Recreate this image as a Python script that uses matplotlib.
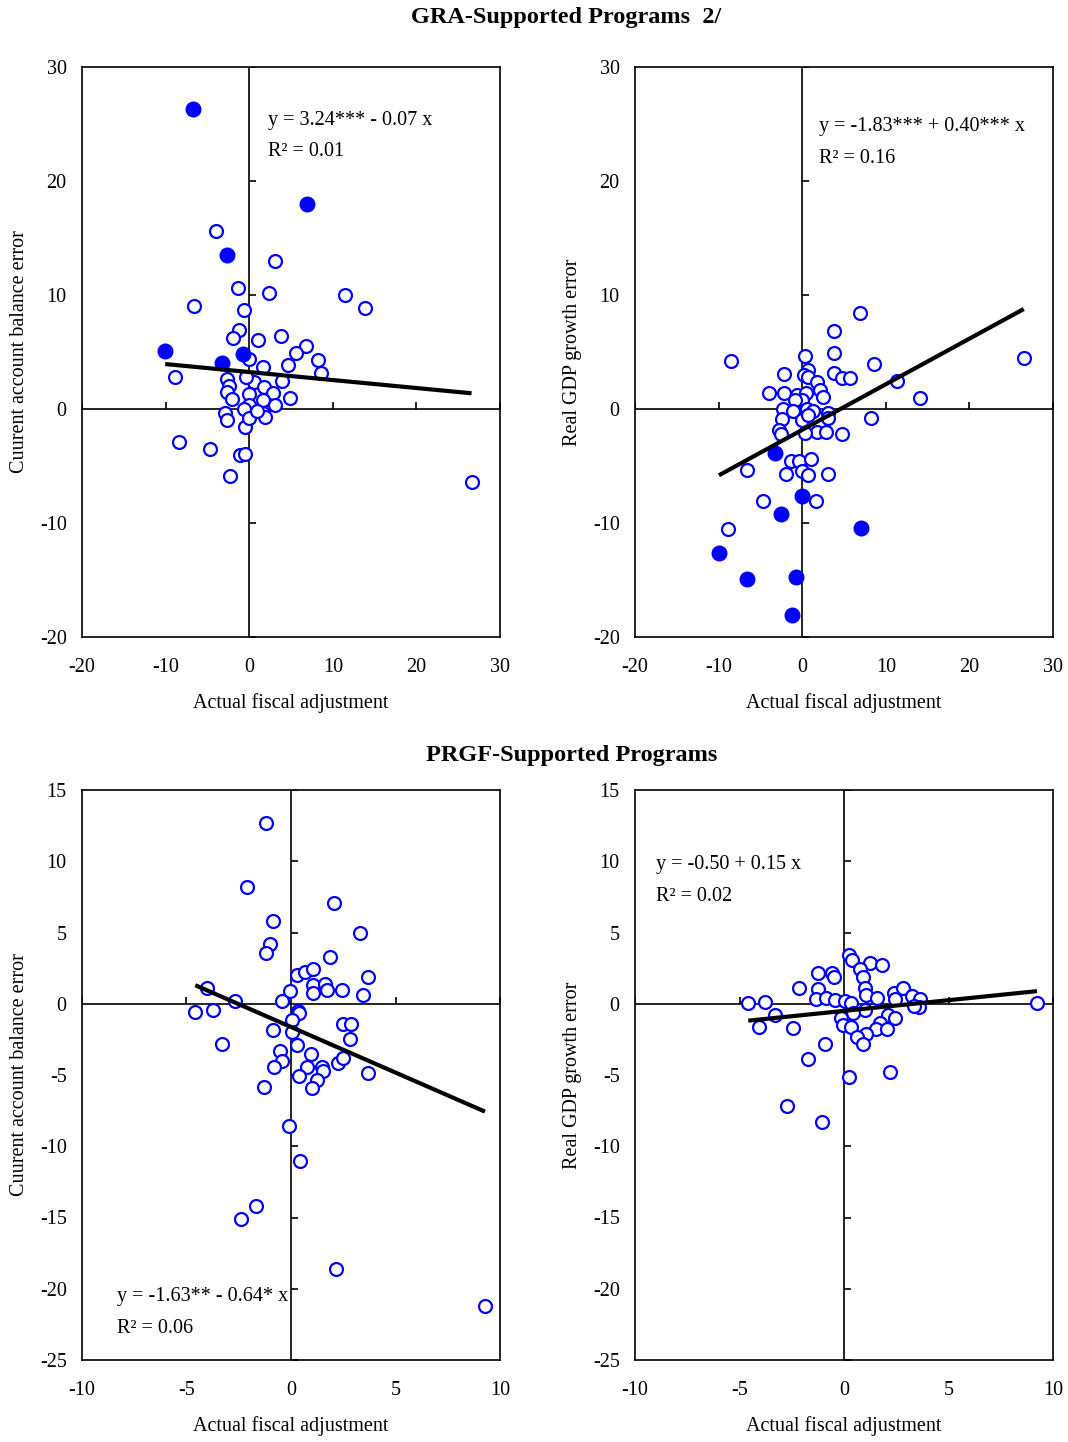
import numpy as np
import matplotlib
matplotlib.use("Agg")
import matplotlib.pyplot as plt

plt.rcParams['font.family'] = ['Liberation Serif', 'DejaVu Serif']
plt.rcParams['axes.unicode_minus'] = False

# GRA programs: current account error vs fiscal adjustment
gra_ca_x = [-3.97, 3.05, -1.30, 2.37, 11.4, 13.9, -6.60, -0.58, -1.26, -1.94, 1.05, 3.80,
            6.83, 5.63, 8.19, 8.59, 4.68, 1.69, -0.02, -8.87, -2.62, -2.38, -2.62, -2.06,
            0.53, 1.73, 3.88, 2.81, 0.01, 4.84, 1.65, 0.01, 3.12, -0.62, 1.69, 1.85,
            -2.86, -2.70, -0.47, -0.04, -8.44, -4.69, -1.10, -0.50, -2.26, 26.6, -0.40, 0.90]
gra_ca_y = [15.6, 13.0, 10.6, 10.2, 10.0, 8.88, 9.06, 8.68, 6.93, 6.20, 6.05, 6.43,
            5.53, 4.91, 4.27, 3.16, 3.86, 3.65, 4.36, 2.78, 2.66, 2.05, 1.52, 0.85,
            2.40, 1.96, 2.49, 1.44, 1.32, 0.96, 0.76, 0.35, 0.35, 0.03, -0.38, -0.67,
            -0.38, -0.96, -1.55, -0.76, -2.87, -3.54, -4.06, -3.98, -5.85, -6.44, 2.80, -0.20]
gra_ca_fx = [-6.67, 6.87, -2.70, -10.05, -0.72, -3.29]
gra_ca_fy = [26.3, 18.0, 13.5, 5.1, 4.82, 4.0]

# GRA programs: growth error vs fiscal adjustment
gra_g_x = [6.90, 3.77, 3.80, -8.47, 0.38, 8.55, 26.5, -2.17, 0.70, 0.22, 0.74, 3.85,
           4.73, 5.69, 1.73, 2.09, 2.49, 11.3, -3.97, -2.17, -0.58, 0.42, 0.02, -0.86,
           14.05, -2.33, -1.06, 0.58, 1.33, 3.05, 3.09, -2.45, -0.06, 0.66, 8.19, 1.73,
           0.34, 2.81, 4.80, -2.73, -2.49, -6.56, -1.34, -0.42, 1.10, -1.90, 0.02, 0.70,
           3.13, -4.69, 1.61, -8.88]
gra_g_y = [8.38, 6.82, 4.89, 4.21, 4.62, 3.98, 4.46, 3.10, 3.39, 3.02, 2.82, 3.16,
           2.69, 2.75, 2.34, 1.64, 1.03, 2.46, 1.40, 1.40, 1.20, 1.40, 0.76, 0.76,
           0.96, 0.03, -0.15, 0.03, -0.18, -0.35, -0.82, -0.85, -0.94, -0.50, -0.75, -2.02,
           -2.11, -2.02, -2.22, -1.87, -2.16, -5.32, -4.59, -4.59, -4.41, -5.73, -5.44, -5.82,
           -5.73, -8.07, -8.07, -10.56]
gra_g_fx = [-3.21, -0.08, -2.55, 7.0, -9.96, -6.59, -0.71, -1.19]
gra_g_fy = [-3.9, -7.64, -9.18, -10.47, -12.64, -14.88, -14.75, -18.09]

# PRGF programs: current account error vs fiscal adjustment
prgf_ca_x = [-1.21, -2.11, 2.04, -0.86, 3.30, -0.99, -1.20, 1.88, 0.27, 0.67, 1.04, 3.67,
             -4.00, 1.04, 1.61, 1.07, 1.72, 2.45, 3.43, -0.05, -0.43, -2.69, -4.58, -3.75,
             0.35, 0.36, 0.03, -0.85, 0.06, 2.47, 2.89, 2.84, -3.32, 0.27, -0.51, 0.96,
             -0.43, -0.80, 2.23, 2.47, 0.77, 1.50, 1.51, 3.67, 0.38, 1.23, 0.99, -1.28,
             -0.10, 0.43, -2.39, -1.67, 2.15, 9.28]
prgf_ca_y = [12.69, 8.18, 7.10, 5.84, 4.95, 4.17, 3.59, 3.31, 2.05, 2.23, 2.42, 1.88,
             1.13, 1.32, 1.37, 0.74, 0.95, 0.95, 0.62, 0.90, 0.22, 0.18, -0.60, -0.43,
             -0.50, -0.68, -1.16, -1.81, -1.95, -1.42, -1.44, -2.44, -2.82, -2.89, -3.31, -3.50,
             -4.04, -4.43, -4.13, -3.80, -4.43, -4.46, -4.71, -4.85, -5.07, -5.37, -5.91, -5.84,
             -8.6, -11.05, -15.1, -14.2, -18.6, -21.2]

# PRGF programs: growth error vs fiscal adjustment
prgf_g_x = [0.26, 0.39, 1.23, 1.82, 0.75, 0.91, -1.24, -0.56, -0.50, -2.17, -1.24, 0.99,
            1.07, 1.58, 2.41, 2.84, 3.25, 3.63, 3.58, 3.35, 2.45, -4.58, -3.78, -1.34,
            -0.88, -0.43, 0.03, 0.35, 0.99, 0.43, -3.32, -4.05, -2.44, -0.16, -0.05, 0.35,
            2.10, 2.45, 1.74, 1.53, 2.04, 1.07, 0.62, 0.89, -0.89, -1.71, 0.24, 2.20,
            9.23, -2.73, -1.05]
prgf_g_y = [3.40, 3.07, 2.84, 2.70, 2.42, 1.90, 2.13, 2.13, 1.85, 1.08, 1.01, 1.08,
            0.62, 0.43, 0.73, 1.08, 0.54, 0.31, -0.25, -0.16, 0.31, 0.07, 0.15, 0.31,
            0.43, 0.27, 0.20, 0.03, -0.43, -0.62, -0.79, -1.65, -1.72, -1.01, -1.48, -1.60,
            -0.79, -0.97, -1.32, -1.79, -1.79, -2.12, -2.36, -2.82, -2.80, -3.88, -5.12, -4.81,
            0.05, -7.2, -8.3]

# regression coefficients as printed
fits = [(3.24, -0.07), (-1.83, 0.40), (-1.63, -0.64), (-0.50, 0.15)]
eq_text = ["y = 3.24*** - 0.07 x", "y = -1.83*** + 0.40*** x",
           "y = -1.63** - 0.64* x", "y = -0.50 + 0.15 x"]
r2_text = ["R\u00b2 = 0.01", "R\u00b2 = 0.16", "R\u00b2 = 0.06", "R\u00b2 = 0.02"]
ylabels = ["Cuurent account balance error", "Real GDP growth error"] * 2

top_xticks = [-20, -10, 0, 10, 20, 30]
top_yticks = [-20, -10, 0, 10, 20, 30]
bot_xticks = [-10, -5, 0, 5, 10]
bot_yticks = [-25, -20, -15, -10, -5, 0, 5, 10, 15]

BLUE = '#0000FF'
FS = 14.5
W, H = 1068, 1442
fig = plt.figure(figsize=(W / 100, H / 100), dpi=100)


def panel(rect, xo, yo, xf, yf, xt, yt, k, text_pos):
    ax = fig.add_axes(rect)
    ax.set_xlim(xt[0], xt[-1])
    ax.set_ylim(yt[0], yt[-1])
    ax.set_xticks(xt)
    ax.set_yticks(yt)
    ax.tick_params(length=0, labelsize=FS)
    ax.tick_params(axis='x', pad=15)
    ax.tick_params(axis='y', pad=11)
    for s in ax.spines.values():
        s.set_linewidth(1.2)
    ax.axhline(0, color='black', lw=1.2, zorder=1)
    ax.axvline(0, color='black', lw=1.2, zorder=1)
    # small tick marks on the zero axes
    tx = [v for v in xt if v != 0]
    ty = [v for v in yt if v != 0]
    ax.plot(tx, np.zeros(len(tx)), ls='none', marker=2, ms=5, mew=1.2, color='black', zorder=1)
    ax.plot(np.zeros(len(ty)), ty, ls='none', marker=1, ms=5, mew=1.2, color='black', zorder=1)

    ax.plot(xo, yo, ls='none', marker='o', ms=9.3, mfc='white', mec=BLUE, mew=1.6, zorder=3)
    if xf:
        ax.plot(xf, yf, ls='none', marker='o', ms=10.5, mfc=BLUE, mec=BLUE, zorder=3)

    allx = np.array(list(xo) + list(xf))
    a, b = fits[k]
    lx = np.array([allx.min(), allx.max()])
    ax.plot(lx, a + b * lx, color='black', lw=3, zorder=4, solid_capstyle='butt')

    ax.text(text_pos[0], text_pos[1], eq_text[k], transform=ax.transAxes,
            fontsize=FS, va='center', ha='left')
    ax.text(text_pos[0], text_pos[2], r2_text[k], transform=ax.transAxes,
            fontsize=FS, va='center', ha='left')
    ax.set_xlabel("Actual fiscal adjustment", fontsize=FS, labelpad=12)
    ax.set_ylabel(ylabels[k], fontsize=FS, labelpad=8)
    return ax


def rect(l, t, r, b):
    return [l / W, 1 - b / H, (r - l) / W, (b - t) / H]


panel(rect(82, 67, 500, 637), gra_ca_x, gra_ca_y, gra_ca_fx, gra_ca_fy,
      top_xticks, top_yticks, 0, (0.445, 0.907, 0.851))
panel(rect(635, 67, 1053, 637), gra_g_x, gra_g_y, gra_g_fx, gra_g_fy,
      top_xticks, top_yticks, 1, (0.44, 0.896, 0.839))
panel(rect(82, 790, 500, 1360), prgf_ca_x, prgf_ca_y, [], [],
      bot_xticks, bot_yticks, 2, (0.084, 0.111, 0.055))
panel(rect(635, 790, 1053, 1360), prgf_g_x, prgf_g_y, [], [],
      bot_xticks, bot_yticks, 3, (0.05, 0.870, 0.814))

fig.text(566 / W, 1 - 18 / H, "GRA-Supported Programs  2/", ha='center', va='center',
         fontsize=17.5, fontweight='bold')
fig.text(572 / W, 1 - 755 / H, "PRGF-Supported Programs", ha='center', va='center',
         fontsize=17.5, fontweight='bold')

fig.savefig("out.png", dpi=100)
